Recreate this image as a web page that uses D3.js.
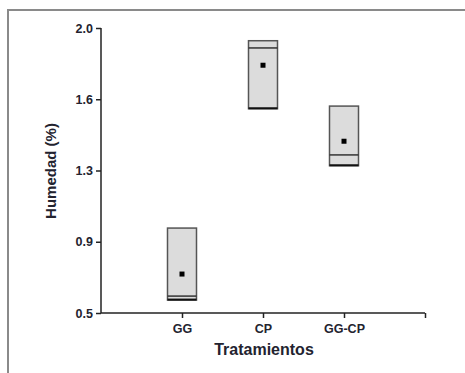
<!DOCTYPE html>
<html><head><meta charset="utf-8">
<script src="https://cdn.jsdelivr.net/npm/d3@7"></script>
<style>body{margin:0;background:#fff}svg{display:block}text{font-family:Arial,"Liberation Sans",sans-serif}</style>
</head><body><svg id="c" width="465" height="373"></svg>
<script>
const categories = ["GG", "CP", "GG-CP"];
const q1Values = [0.568, 1.575, 1.275];
const medianValues = [0.589, 1.895, 1.332];
const q3Values = [0.947, 1.933, 1.589];
const meanValues = [0.705, 1.804, 1.404];
const yTicks = [0.5, 0.875, 1.25, 1.625, 2.0];
const yTickLabels = ["0.5", "0.9", "1.3", "1.6", "2.0"];

const svg = d3.select("#c");
// frame
svg.append("rect").attr("x", 8).attr("y", 10).attr("width", 470).attr("height", 380)
  .attr("fill", "none").attr("stroke", "#8a8a8a").attr("stroke-width", 2);

const x = d3.scaleLinear().domain([0, 4]).range([101, 425]);
const y = d3.scaleLinear().domain([0.5, 2.0]).range([313, 28]);

const data = categories.map((c, i) => ({c, i: i + 1, q1: q1Values[i], med: medianValues[i], q3: q3Values[i], mean: meanValues[i]}));

const txt = "#23232f";
// y axis
const ya = svg.append("g").attr("transform", "translate(101,0)")
  .call(d3.axisLeft(y).tickValues(yTicks).tickFormat((d, i) => yTickLabels[i]).tickSize(5).tickPadding(3));
ya.select(".domain").attr("stroke", "#222").attr("stroke-width", 1.5).attr("d", "M0,28V313");
ya.selectAll(".tick line").attr("stroke", "#222").attr("stroke-width", 1.5);
ya.selectAll(".tick text").attr("font-size", 12.5).attr("font-weight", "bold").attr("fill", txt);

// x axis
const xa = svg.append("g").attr("transform", "translate(0,313)")
  .call(d3.axisBottom(x).tickValues([1, 2, 3, 4]).tickFormat(d => categories[d - 1] || "").tickSize(5).tickPadding(6));
xa.select(".domain").attr("stroke", "#222").attr("stroke-width", 1.5).attr("d", "M101,0H425");
xa.selectAll(".tick line").attr("stroke", "#222").attr("stroke-width", 1.5);
xa.selectAll(".tick text").attr("font-size", 12.5).attr("font-weight", "bold").attr("fill", txt);

const hw = 14.5;
const g = svg.append("g");
const boxes = g.selectAll("g.box").data(data).join("g").attr("class", "box");
boxes.append("rect")
  .attr("x", d => x(d.i) - hw).attr("width", 2 * hw)
  .attr("y", d => y(d.q3)).attr("height", d => y(d.q1) - y(d.q3))
  .attr("fill", "#dcdcdc").attr("stroke", "#555").attr("stroke-width", 1.5);
boxes.append("line")
  .attr("x1", d => x(d.i) - hw).attr("x2", d => x(d.i) + hw)
  .attr("y1", d => y(d.med)).attr("y2", d => y(d.med))
  .attr("stroke", "#333").attr("stroke-width", 1.5);
boxes.append("line")
  .attr("x1", d => x(d.i) - hw).attr("x2", d => x(d.i) + hw)
  .attr("y1", d => y(d.q1) - 0.5).attr("y2", d => y(d.q1) - 0.5)
  .attr("stroke", "#111").attr("stroke-width", 2);
boxes.append("rect")
  .attr("x", d => x(d.i) - 2.5).attr("y", d => y(d.mean) - 2.5)
  .attr("width", 5).attr("height", 5).attr("fill", "#000");

svg.append("text").attr("x", 264).attr("y", 355).attr("text-anchor", "middle")
  .attr("font-size", 16).attr("font-weight", "bold").attr("fill", txt).text("Tratamientos");
svg.append("text").attr("transform", "translate(56,171) rotate(-90)").attr("text-anchor", "middle")
  .attr("font-size", 15).attr("font-weight", "bold").attr("fill", txt).text("Humedad (%)");
</script></body></html>
